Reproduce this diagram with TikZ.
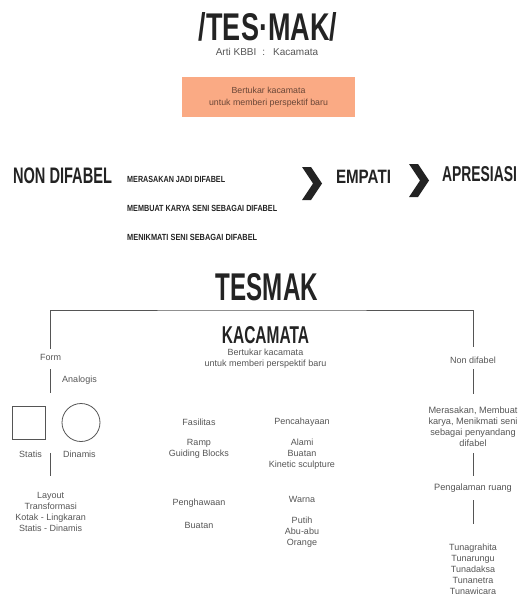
\documentclass[tikz,border=0pt]{standalone}
\usepackage{fontspec}
\setmainfont{Liberation Sans}
\definecolor{tmgray}{RGB}{85,85,85}
\definecolor{tmdark}{RGB}{35,35,35}
\definecolor{tmorange}{RGB}{250,170,132}
\definecolor{tmbrown}{RGB}{105,70,55}
% bold heading squeezed to a given width and cap height
\newcommand{\cond}[3]{\resizebox{#1pt}{#2pt}{\bfseries #3}}

\begin{document}
\begin{tikzpicture}[x=1pt, y=-1pt,
    every node/.style={inner sep=0pt, text=tmgray, align=center,
      font=\fontsize{9}{11}\selectfont},
    head/.style={text=tmdark},
    link/.style={draw=tmgray, line width=0.9pt}]
  \useasboundingbox (0,0) rectangle (527,594);

  % Title
  \node[head] (title) at (268,27) {\cond{138}{28}{/TES·MAK/}};
  \node[font=\fontsize{10}{12}\selectfont] (kbbi) at (267,52) {Arti KBBI\hspace{6pt}:\hspace{8pt}Kacamata};
  \node[fill=tmorange, text=tmbrown, minimum width=173pt, minimum height=40pt,
    font=\fontsize{8.8}{11.5}\selectfont] (tukar) at (268.5,97) {Bertukar kacamata\\untuk memberi perspektif baru};

  % Non difabel -> empati -> apresiasi
  \node[head] (nondifabel) at (62.5,175.5) {\cond{99}{15.7}{NON DIFABEL}};
  \node[head, anchor=west] (rasakan) at (127,179) {\cond{98}{6.2}{MERASAKAN JADI DIFABEL}};
  \node[head, anchor=west] (buat) at (127,208) {\cond{150}{6.2}{MEMBUAT KARYA SENI SEBAGAI DIFABEL}};
  \node[head, anchor=west] (nikmati) at (127,237) {\cond{130}{6.2}{MENIKMATI SENI SEBAGAI DIFABEL}};
  \node[head] (empati) at (363.5,176.7) {\cond{55}{13.3}{EMPATI}};
  \node[head] (apresiasi) at (479.5,174) {\cond{75}{15}{APRESIASI}};
  \foreach \cx/\cy in {302/167, 409/164}
    \fill[tmdark] (\cx,\cy) -- ++(9,0) -- ++(11,16.5) -- ++(-11,16.5) -- ++(-9,0) -- ++(11,-16.5) -- cycle;

  % Tesmak
  \node[head] (tesmak) at (267,287) {\cond{102}{27}{TESMAK}};
  \node[head] (kacamata) at (265.5,335) {\cond{87}{17}{KACAMATA}};
  \node (tukarb) at (265.5,358.5) {Bertukar kacamata\\untuk memberi perspektif baru};
  \coordinate (bar) at (262,310);

  % Form
  \node (form) at (50.7,357) {Form};
  \node (analogis) at (79.5,380) {Analogis};
  \node[draw=tmgray, line width=0.8pt, minimum size=33pt] (kotak) at (29,422.5) {};
  \node[circle, draw=tmgray, line width=0.8pt, minimum size=38pt] (lingkaran) at (81,422.5) {};
  \node (statis) at (30.5,454) {Statis};
  \node (dinamis) at (79.5,454) {Dinamis};
  \node (layout) at (50.7,511.7) {Layout\\Transformasi\\Kotak - Lingkaran\\Statis - Dinamis};

  % Fasilitas
  \node (fasilitas) at (199,422) {Fasilitas};
  \node (fasilitasisi) at (199,448.8) {Ramp\\Guiding Blocks};
  \node (cahaya) at (302,422) {Pencahayaan};
  \node (cahayaisi) at (302,454) {Alami\\Buatan\\Kinetic sculpture};
  \node (hawa) at (199,503) {Penghawaan};
  \node (hawaisi) at (199,525) {Buatan};
  \node (warna) at (302,499) {Warna};
  \node (warnaisi) at (302,532) {Putih\\Abu-abu\\Orange};

  % Non difabel
  \node (nondif) at (473,360) {Non difabel};
  \node[font=\fontsize{9.2}{11.1}\selectfont] (merasakan) at (473,426.7) {Merasakan, Membuat\\karya, Menikmati seni\\sebagai penyandang\\difabel};
  \node[font=\fontsize{9.2}{11}\selectfont] (ruang) at (473,488) {Pengalaman ruang};
  \node (tuna) at (473,569.5) {Tunagrahita\\Tunarungu\\Tunadaksa\\Tunanetra\\Tunawicara};

  % Lines
  \draw[link] ([yshift=5pt]form.north) |- (bar) -| ([yshift=9pt]nondif.north);
  \draw[link, shorten <=9pt, shorten >=13pt] (form.south) -- (form.south |- kotak.north);
  \draw[link, shorten <=2.3pt, shorten >=15.4pt] (layout.north |- statis.north) -- (layout.north);
  \draw[link, shorten <=5.7pt, shorten >=12.6pt] (nondif.south) -- (merasakan.north);
  \draw[link, shorten <=6.4pt, shorten >=7.6pt] (merasakan.south) -- (ruang.north);
  \draw[link, shorten <=7.8pt, shorten >=19.9pt] (ruang.south) -- (tuna.north);
\end{tikzpicture}
\end{document}
